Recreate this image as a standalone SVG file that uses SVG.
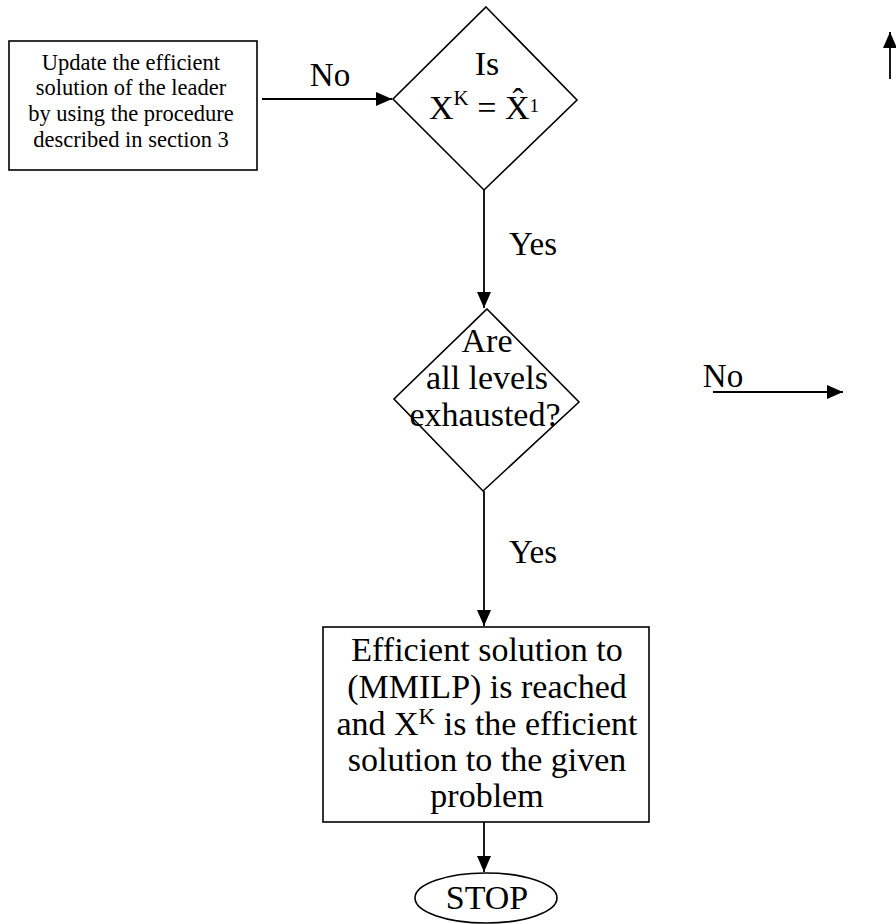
<svg xmlns="http://www.w3.org/2000/svg" width="896" height="924" viewBox="0 0 896 924">
<style>
.shape{fill:#fff;stroke:#000;stroke-width:1.6}
.t{font-family:"Liberation Serif","Times New Roman",serif;fill:#000}
.small{font-size:22.5px}
.big{font-size:34px}
.lbl{font-size:33px}
.conn{stroke:#000;stroke-width:1.8;fill:none}
</style>
<defs>
<marker id="ah" markerUnits="userSpaceOnUse" markerWidth="17" markerHeight="14" refX="16" refY="7" orient="auto">
<path d="M0,0 L16,7 L0,14 z" fill="#000"/>
</marker>
</defs>
<rect width="896" height="924" fill="#fff"/>
<g id="connectors">
<line class="conn" x1="262" y1="99" x2="392" y2="99" marker-end="url(#ah)"/>
<line class="conn" x1="484" y1="190" x2="484" y2="308" marker-end="url(#ah)"/>
<line class="conn" x1="484" y1="491" x2="484" y2="626" marker-end="url(#ah)"/>
<line class="conn" x1="484" y1="822" x2="484" y2="872" marker-end="url(#ah)"/>
<line class="conn" x1="713" y1="392" x2="843" y2="392" marker-end="url(#ah)"/>
<line class="conn" x1="890" y1="79" x2="890" y2="32" marker-end="url(#ah)"/>
<text class="t lbl" x="330" y="86" text-anchor="middle">No</text>
<text class="t lbl" x="533" y="255" text-anchor="middle">Yes</text>
<text class="t lbl" x="533" y="563" text-anchor="middle">Yes</text>
<text class="t lbl" x="723" y="387" text-anchor="middle">No</text>
</g>
<g id="update">
<rect class="shape" x="9" y="41" width="248" height="129"/>
<text class="t small" text-anchor="middle" x="131" y="70">Update the efficient</text>
<text class="t small" text-anchor="middle" x="131" y="95">solution of the leader</text>
<text class="t small" text-anchor="middle" x="131" y="121">by using the procedure</text>
<text class="t small" text-anchor="middle" x="131" y="147">described in section 3</text>
</g>
<g id="decision1">
<polygon class="shape" points="486,7 577,100 484,190 393,99"/>
<text class="t big" text-anchor="middle" x="487" y="75">Is</text>
<text class="t big" x="429" y="119">X<tspan font-size="21" dy="-14">K</tspan><tspan dy="14"> = X̂</tspan><tspan font-size="19" dy="-7">1</tspan></text>
</g>
<g id="decision2">
<polygon class="shape" points="487,309 579,402 483,491 394,399"/>
<text class="t big" text-anchor="middle" x="487" y="352">Are</text>
<text class="t big" text-anchor="middle" x="487" y="389">all levels</text>
<text class="t big" text-anchor="middle" x="485" y="426">exhausted?</text>
</g>
<g id="result">
<rect class="shape" x="323" y="627" width="326" height="195"/>
<text class="t big" text-anchor="middle" x="487" y="661">Efficient solution to</text>
<text class="t big" text-anchor="middle" x="487" y="698">(MMILP) is reached</text>
<text class="t big" text-anchor="middle" x="487" y="735">and X<tspan font-size="23" dy="-11">K</tspan><tspan dy="11"> is the efficient</tspan></text>
<text class="t big" text-anchor="middle" x="487" y="771">solution to the given</text>
<text class="t big" text-anchor="middle" x="487" y="807">problem</text>
</g>
<g id="stop">
<ellipse class="shape" cx="486" cy="898" rx="71" ry="25"/>
<text class="t big" text-anchor="middle" x="487" y="909">STOP</text>
</g>
</svg>
